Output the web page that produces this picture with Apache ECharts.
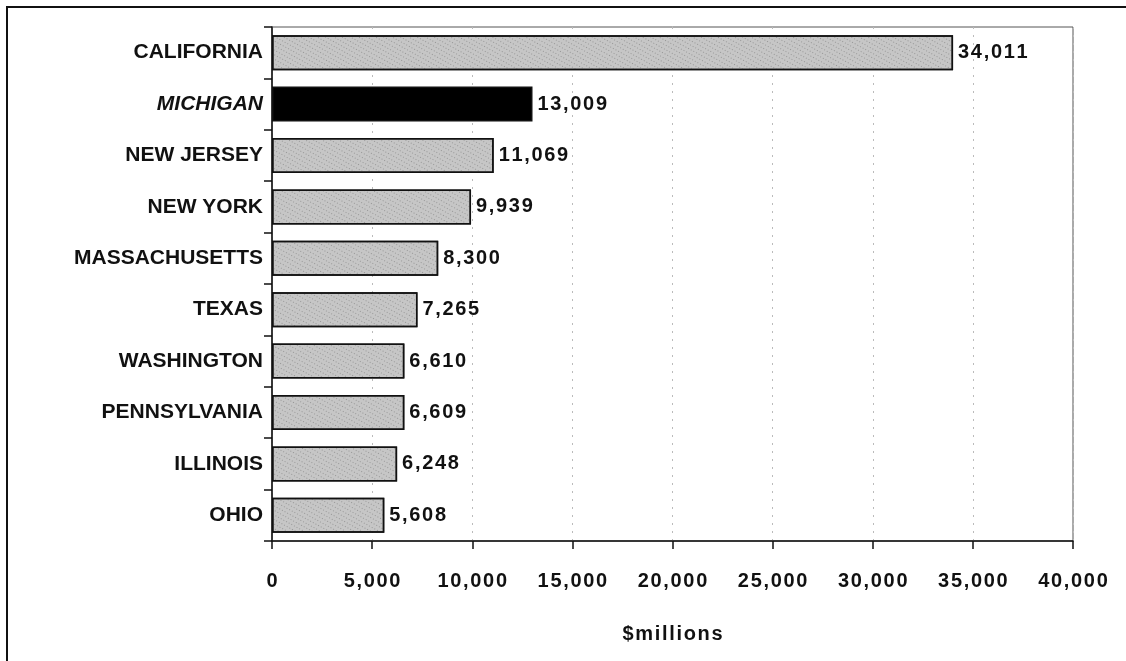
<!DOCTYPE html>
<html>
<head>
<meta charset="utf-8">
<script src="https://cdn.jsdelivr.net/npm/echarts@6/dist/echarts.min.js"></script>
<style>
  html, body { margin: 0; padding: 0; background: #fff; }
  #chart { width: 1126px; height: 661px; }
</style>
</head>
<body>
<div id="chart"></div>
<script>
var states = ['CALIFORNIA', 'MICHIGAN', 'NEW JERSEY', 'NEW YORK', 'MASSACHUSETTS',
    'TEXAS', 'WASHINGTON', 'PENNSYLVANIA', 'ILLINOIS', 'OHIO'];
var values = [34011, 13009, 11069, 9939, 8300, 7265, 6610, 6609, 6248, 5608];
var highlight = 'MICHIGAN';

var fontFam = '"Liberation Sans", Arial, sans-serif';

// spread the digits a little, like the original print
function spaced(s) { return String(s).split('').join('\u200a'); }

var dom = document.getElementById('chart');
var myChart = echarts.init(dom, null, { renderer: 'canvas' });

var option = {
    backgroundColor: '#fff',
    animation: false,
    graphic: [{
        type: 'rect',
        shape: { x: 7, y: 7, width: 1130, height: 670 },
        style: { fill: 'none', stroke: '#111', lineWidth: 2 }
    }],
    grid: {
        left: 272, right: 53, top: 27, bottom: 120,
        show: true, borderColor: '#555', borderWidth: 1
    },
    xAxis: {
        type: 'value',
        min: 0, max: 40000, interval: 5000,
        name: spaced('$millions'),
        nameLocation: 'middle',
        nameGap: 83,
        nameTextStyle: { fontFamily: fontFam, fontWeight: 'bold', fontSize: 20, color: '#111' },
        axisLine: { show: true, lineStyle: { color: '#111', width: 1.5 } },
        axisTick: { show: true, length: 8, lineStyle: { color: '#111', width: 1.5 } },
        axisLabel: {
            margin: 30, color: '#111', fontFamily: fontFam, fontWeight: 'bold', fontSize: 20,
            formatter: function (v) { return spaced(v.toLocaleString('en-US')); }
        },
        splitLine: { show: true, lineStyle: { color: '#bbb', type: [2, 6], width: 1 } }
    },
    yAxis: {
        type: 'category',
        inverse: true,
        data: states,
        axisLine: { show: true, lineStyle: { color: '#111', width: 1.5 } },
        axisTick: { show: true, length: 8, lineStyle: { color: '#111', width: 1.5 } },
        axisLabel: {
            margin: 9, color: '#111', fontFamily: fontFam, fontWeight: 'bold', fontSize: 21,
            formatter: function (v) { return v === highlight ? '{it|' + v + '}' : v; },
            rich: {
                it: { fontStyle: 'italic', fontWeight: 'bold', fontFamily: fontFam, fontSize: 21, color: '#111' }
            }
        }
    },
    series: [{
        type: 'bar',
        barWidth: '68%',
        data: values.map(function (v, i) {
            var hi = states[i] === highlight;
            return {
                value: v,
                itemStyle: {
                    color: hi ? '#000' : '#c6c6c6',
                    borderColor: '#111',
                    borderWidth: 1.5,
                    decal: hi ? null : {
                        symbol: 'rect', symbolSize: 1, color: 'rgba(80,80,80,0.4)',
                        dashArrayX: [1, 2], dashArrayY: [1, 3], rotation: 0.5
                    }
                }
            };
        }),
        label: {
            show: true, position: 'right', distance: 5,
            color: '#111', fontFamily: fontFam, fontWeight: 'bold', fontSize: 20,
            formatter: function (p) { return spaced(p.value.toLocaleString('en-US')); }
        }
    }]
};

myChart.setOption(option);
window.addEventListener('resize', myChart.resize);
</script>
</body>
</html>
